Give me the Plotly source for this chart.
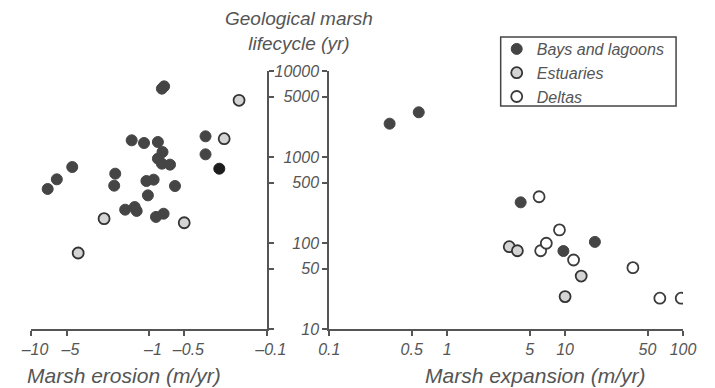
import plotly.graph_objects as go

# ---- data (left panel: erosion magnitude in m/yr, plotted as negative values) ----
bays_erosion = [0.776, 0.743, 0.331, 1.40, 1.10, 0.839, 0.767, 0.839, 0.776, 0.662, 0.331,
                4.47, 6.04, 7.22, 1.93, 1.97, 1.05, 0.912, 0.601, 1.02, 1.59, 1.32, 1.27,
                0.871, 0.751, 0.253]
bays_erosion_life = [6230, 6630, 1740, 1563, 1455, 1494, 1143, 957, 836, 815, 1074,
                     765, 550, 425, 640, 464, 526, 545, 460, 358, 244, 262, 236,
                     201, 219, 731]
est_erosion = [0.172, 0.230, 2.40, 0.502, 3.98]
est_erosion_life = [4560, 1634, 192, 172, 76.5]

# ---- data (right panel: expansion in m/yr) ----
bays_expansion = [0.325, 0.574, 4.20, 9.68, 17.9]
bays_expansion_life = [2440, 3310, 297, 80.7, 103]
est_expansion = [3.36, 3.94, 13.7, 10.0]
est_expansion_life = [90.6, 81.3, 41.3, 23.8]
delta_expansion = [6.02, 8.96, 6.21, 6.93, 11.8, 37.6, 63.6, 96.6]
delta_expansion_life = [345, 142, 81.3, 99.3, 63.4, 51.7, 22.8, 22.8]

erosion_ticks = [10, 5, 1, 0.5, 0.1]
erosion_ticktext = ["\u201310", "\u20135", "\u20131", "\u20130.5", "\u20130.1"]
expansion_ticks = [0.1, 0.5, 1, 5, 10, 50, 100]
expansion_ticktext = ["0.1", "0.5", "1", "5", "10", "50", "100"]
life_ticks = [10, 50, 100, 500, 1000, 5000, 10000]
life_ticktext = ["10", "50", "100", "500", "1000", "5000", "10000"]

GREY = "#555555"
DARK = "#454545"
FONT = "Liberation Sans, Arial, sans-serif"

bays_colors = [DARK] * (len(bays_erosion) - 1) + ["#1c1c1c"]

fig = go.Figure()
fig.add_trace(go.Scatter(
    x=bays_erosion, y=bays_erosion_life, mode="markers", name="Bays and lagoons",
    legendgroup="bays", xaxis="x", yaxis="y",
    marker=dict(size=11, color=bays_colors, line=dict(color=bays_colors, width=1))))
fig.add_trace(go.Scatter(
    x=est_erosion, y=est_erosion_life, mode="markers", name="Estuaries",
    legendgroup="est", xaxis="x", yaxis="y",
    marker=dict(size=11, color="#d4d4d4", line=dict(color="#333333", width=1.8))))
fig.add_trace(go.Scatter(
    x=delta_expansion, y=delta_expansion_life, mode="markers", name="Deltas",
    legendgroup="delta", xaxis="x2", yaxis="y2",
    marker=dict(size=11, color="white", line=dict(color="#3c3c3c", width=1.8))))
fig.add_trace(go.Scatter(
    x=bays_expansion, y=bays_expansion_life, mode="markers", name="Bays and lagoons",
    legendgroup="bays", showlegend=False, xaxis="x2", yaxis="y2",
    marker=dict(size=11, color=DARK, line=dict(color=DARK, width=1))))
fig.add_trace(go.Scatter(
    x=est_expansion, y=est_expansion_life, mode="markers", name="Estuaries",
    legendgroup="est", showlegend=False, xaxis="x2", yaxis="y2",
    marker=dict(size=11, color="#d4d4d4", line=dict(color="#333333", width=1.8))))

# page offset of the plot div (default body margin)
OFF = 8
W, H = 715 - OFF, 388 - OFF
L = 31 - OFF
T = 71 - OFF
R = W - (689 - OFF)
B = H - (329 - OFF)
pw = W - L - R
ph = H - T - B


def px_x(x):
    """page pixel x -> paper fraction"""
    return (x - OFF - L) / pw


def px_y(y):
    """page pixel y -> paper fraction"""
    return (H - B - (y - OFF)) / ph


left_end = px_x(269)
right_start = px_x(332)

tickfont = dict(family=FONT, size=16, color=GREY, style="italic")
axis_common = dict(showgrid=False, zeroline=False, showline=True, linecolor=GREY,
                   linewidth=2, ticks="outside", ticklen=5, tickwidth=2, tickcolor=GREY,
                   tickfont=tickfont)

fig.update_layout(
    width=W, height=H,
    margin=dict(l=L, r=R, t=T, b=B),
    paper_bgcolor="white", plot_bgcolor="white",
    font=dict(family=FONT, color=GREY),
    xaxis=dict(domain=[0, left_end], type="log", range=[1, -1], anchor="y",
               tickvals=erosion_ticks, ticktext=erosion_ticktext, ticklabelshift=-4,
               **axis_common),
    yaxis=dict(type="log", range=[1, 4], anchor="x", side="right",
               tickvals=life_ticks, showticklabels=False, **axis_common),
    xaxis2=dict(domain=[right_start, 1], type="log", range=[-1, 2], anchor="y2",
                tickvals=expansion_ticks, ticktext=expansion_ticktext, **axis_common),
    yaxis2=dict(type="log", range=[1, 4], anchor="x2", side="left",
                tickvals=life_ticks, ticktext=life_ticktext, **axis_common),
    showlegend=True,
    legend=dict(x=px_x(501), y=px_y(32), xanchor="left", yanchor="top",
                borderwidth=0, bgcolor="rgba(0,0,0,0)",
                font=dict(family=FONT, size=16, color=GREY, style="italic"),
                tracegroupgap=0, itemwidth=30),
)

# legend frame
fig.add_shape(type="rect", xref="paper", yref="paper",
              x0=px_x(505), x1=px_x(682), y0=px_y(106), y1=px_y(37),
              line=dict(color="#444444", width=1.5), fillcolor="rgba(0,0,0,0)", layer="below")

title_font = dict(family=FONT, size=19, color=GREY, style="italic")
axis_title_font = dict(family=FONT, size=21, color=GREY, style="italic")
fig.add_annotation(text="Geological marsh<br>lifecycle (yr)", xref="paper", yref="paper",
                   x=px_x(301), y=px_y(31), xanchor="center", yanchor="middle",
                   showarrow=False, font=title_font, align="center")
fig.add_annotation(text="Marsh erosion (m/yr)", xref="paper", yref="paper",
                   x=px_x(125), y=px_y(376), xanchor="center", yanchor="middle",
                   showarrow=False, font=axis_title_font)
fig.add_annotation(text="Marsh expansion (m/yr)", xref="paper", yref="paper",
                   x=px_x(540), y=px_y(376), xanchor="center", yanchor="middle",
                   showarrow=False, font=axis_title_font)

fig.write_html("out.html")
